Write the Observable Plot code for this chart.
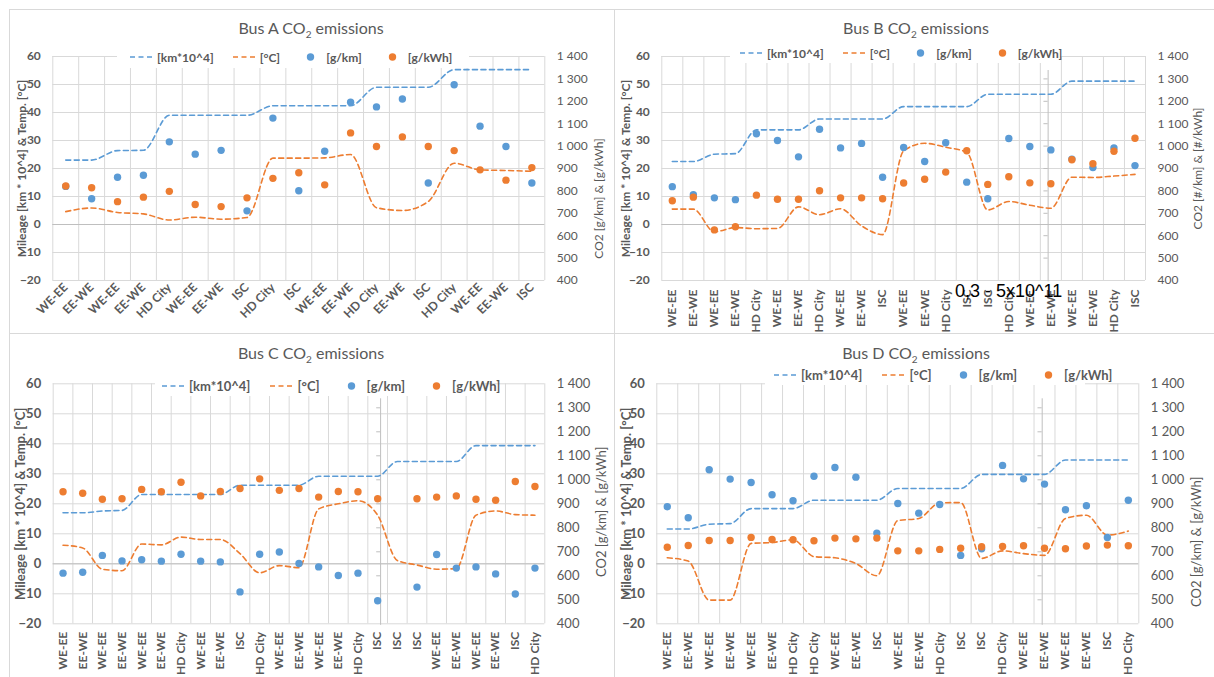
<!DOCTYPE html>
<html>
<head>
<meta charset="utf-8">
<script src="https://cdn.jsdelivr.net/npm/d3@7"></script>
<script src="https://cdn.jsdelivr.net/npm/@observablehq/plot@0.6"></script>
<style>
  body { margin: 0; background: #fff; }
  #root { position: relative; width: 1214px; height: 677px; overflow: hidden; background: #fff; font-family: Lato, "Open Sans", sans-serif; }
  .border { position: absolute; border: 1px solid #D9D9D9; box-sizing: border-box; }
  .chart { position: absolute; }
  .chart svg { overflow: visible; }
  .title { position: absolute; width: 300px; text-align: center; color: #595959; font-size: 16px; line-height: 16px; white-space: nowrap; }
  .title sub { font-size: 10px; line-height: 0; }
  .legend { position: absolute; background: #fff; display: flex; align-items: center; box-sizing: border-box; color: #595959; font-weight: bold; white-space: nowrap; }
  .legend .item { display: flex; align-items: center; gap: 4px; }
  .note { position: absolute; font-family: "Liberation Sans", Arial, sans-serif; font-size: 18px; line-height: 18px; color: #000; white-space: nowrap; }
</style>
</head>
<body>
<div id="root"></div>
<script>
// ---------------- data ----------------
const catsA = ["WE-EE","EE-WE","WE-EE","EE-WE","HD City","WE-EE","EE-WE","ISC","HD City","ISC","WE-EE","EE-WE","HD City","EE-WE","ISC","HD City","WE-EE","EE-WE","ISC"];
const mileA = [23,23,26.4,26.5,39,39,39,39,42.4,42.4,42.4,42.4,49,49,49,55.3,55.3,55.3,55.3];
const tempA = [4.6,5.9,4.3,3.8,1.6,2.6,1.9,2.5,23.7,23.7,23.8,25.0,6.0,5.0,8.2,21.9,19.5,19.3,19.0];
const gkmA  = [820,765,861,870,1019,964,981,711,1125,801,977,1196,1175,1210,835,1274,1089,998,835];
const gkwhA = [822,814,752,772,798,739,730,769,856,881,827,1059,998,1041,998,980,894,848,904];

const catsB = ["WE-EE","EE-WE","WE-EE","EE-WE","HD City","WE-EE","EE-WE","HD City","WE-EE","EE-WE","ISC","WE-EE","EE-WE","HD City","ISC","ISC","HD City","WE-EE","EE-WE","WE-EE","EE-WE","HD City","ISC"];
const mileB = [22.5,22.5,25.1,25.3,33.8,33.8,33.8,37.7,37.7,37.7,37.7,42.1,42.1,42.1,42.1,46.5,46.5,46.5,46.5,51.2,51.2,51.2,51.2];
const tempB = [5.5,5.5,-2.6,-1.1,-1.5,-1.4,6.3,3.5,5.6,-0.5,-3.6,26.3,29.0,27.6,25.8,5.2,8.2,6.9,5.8,16.9,16.8,17.3,17.9];
const gkmB  = [819,783,769,761,1055,1025,952,1075,992,1012,861,994,931,1015,839,765,1034,998,983,942,904,992,913];
const gkwhB = [756,772,626,640,781,763,763,801,769,769,765,835,852,884,979,829,863,836,832,939,921,977,1035];

const catsC = ["WE-EE","EE-WE","WE-EE","EE-WE","WE-EE","EE-WE","HD City","WE-EE","EE-WE","ISC","HD City","WE-EE","EE-WE","WE-EE","EE-WE","HD City","ISC","ISC","ISC","WE-EE","EE-WE","WE-EE","EE-WE","ISC","HD City"];
const mileC = [17.0,17.0,17.6,17.8,23.1,23.1,23.1,23.1,23.1,26.2,26.2,26.2,26.2,29.2,29.2,29.2,29.2,34.1,34.1,34.1,34.1,39.4,39.4,39.4,39.4];
const tempC = [6.2,5.3,-1.8,-2.3,6.6,6.3,8.9,8.1,8.1,3.4,-3.0,-0.6,-1.3,18.3,20.0,21.0,16.2,1.1,-0.4,-1.8,-1.6,16.2,17.6,16.4,16.2];
const gkmC  = [611,615,685,662,667,661,690,661,658,533,690,699,651,637,601,611,496,null,553,689,632,637,608,524,632];
const gkwhC = [950,944,919,921,960,950,990,933,951,964,1004,956,964,928,951,950,921,null,921,928,933,919,915,993,972];

const catsD = ["WE-EE","EE-WE","WE-EE","EE-WE","WE-EE","EE-WE","HD City","HD City","WE-EE","EE-WE","ISC","WE-EE","EE-WE","HD City","ISC","ISC","HD City","WE-EE","EE-WE","WE-EE","EE-WE","ISC","HD City"];
const mileD = [11.6,11.6,13.2,13.4,18.4,18.4,18.4,21.2,21.2,21.2,21.2,25.1,25.1,25.1,25.1,29.8,29.8,29.8,29.8,34.6,34.6,34.6,34.6];
const tempD = [2.0,0.9,-12.1,-12.1,6.8,7.1,8.0,2.4,2.0,0.1,-4.0,14.4,15.1,20.3,20.4,1.8,4.3,3.4,2.8,15.1,16.2,9.6,10.9];
const gkmD  = [888,842,1042,1003,989,938,913,1015,1051,1011,778,901,861,897,685,713,1060,1004,982,875,892,760,915];
const gkwhD = [719,726,747,747,760,751,750,746,757,754,757,704,704,710,715,721,722,725,715,713,724,728,725];

const leftTicks  = [-20,-10,0,10,20,30,40,50,60];
const rightTicks = [400,500,600,700,800,900,1000,1100,1200,1300,1400];
const legendLabels = ["[km*10^4]", "[°C]", "[g/km]", "[g/kWh]"];
const leftTitle = "Mileage [km * 10^4] & Temp. [°C]";
const noteText = "0,3 - 5x10^11";

// ---------------- styling / layout ----------------
const BLUE = "#5B9BD5", ORANGE = "#ED7D31", GRID = "#D9D9D9", AXIS = "#BFBFBF", TXT = "#595959";
const fmt = d3.formatLocale({decimal: ",", thousands: " ", grouping: [3], currency: ["", ""]}).format(",d");
const toLeft = v => (v - 400) / 12.5 - 20;       // secondary (CO2) axis -> primary axis
const fromLeft = v => (v + 20) * 12.5 + 400;

const panels = [
  {name: "A", cats: catsA, mile: mileA, temp: tempA, gkm: gkmA, gkwh: gkwhA,
   box: {x: 9, y: 9, w: 605, h: 324}, frame: {l: 52.3, r: 544.3, t: 56, b: 280},
   fs: 12, xfs: 12, rot: -45, padX: 5, ltDx: -31, rtDx: 54, rtDy: 30, rightTitle: "CO2 [g/km] & [g/kWh]",
   title: {cx: 311, top: 20}, legend: {x: 117, y: 46, w: 352, h: 22, pad: 13, gap: 19, fs: 12}, sep: null},
  {name: "B", cats: catsB, mile: mileB, temp: tempB, gkm: gkmB, gkwh: gkwhB,
   box: {x: 614, y: 9, w: 600, h: 324}, frame: {l: 661.3, r: 1145, t: 56, b: 280},
   fs: 12, xfs: 12, rot: -90, padX: 9, ltDx: -36, rtDx: 53, rtDy: 0, rightTitle: "CO2 [#/km] & [#/kWh]",
   title: {cx: 916, top: 20}, legend: {x: 730, y: 43, w: 330, h: 20, pad: 10, gap: 19, fs: 12}, sep: 17.87},
  {name: "C", cats: catsC, mile: mileC, temp: tempC, gkm: gkmC, gkwh: gkwhC,
   box: {x: 9, y: 333, w: 605, h: 344}, frame: {l: 52.7, r: 544.3, t: 383.3, b: 623.3},
   fs: 13, xfs: 12, rot: -90, padX: 8, ltDx: -32, rtDx: 57, rtDy: 8, rightTitle: "CO2 [g/km] & [g/kWh]",
   title: {cx: 311, top: 345}, legend: {x: 155, y: 375, w: 330, h: 21, pad: 7, gap: 20, fs: 13}, sep: 16.15},
  {name: "D", cats: catsD, mile: mileD, temp: tempD, gkm: gkmD, gkwh: gkwhD,
   box: {x: 614, y: 333, w: 600, h: 344}, frame: {l: 656.3, r: 1138.3, t: 383.3, b: 623.3},
   fs: 13, xfs: 12, rot: -90, padX: 8, ltDx: -30, rtDx: 58, rtDy: 38, rightTitle: "CO2 [g/km] & [g/kWh]",
   title: {cx: 916, top: 345}, legend: {x: 765, y: 364, w: 320, h: 21, pad: 9, gap: 20, fs: 13}, sep: 17.89}
];

const root = document.getElementById("root");

function drawPanel(p) {
  const n = p.cats.length, idx = d3.range(n);
  const bx = p.box, fr = p.frame;
  const marks = [
    Plot.ruleY(leftTicks, {stroke: GRID, strokeWidth: 1}),
    Plot.ruleX(d3.range(n + 1).map(i => i - 0.5), {stroke: GRID, strokeWidth: 1}),
    Plot.ruleY([0], {stroke: AXIS, strokeWidth: 1})
  ];
  if (p.sep != null) {
    marks.push(
      Plot.ruleX([p.sep], {y1: -20.5, y2: 55, stroke: AXIS, strokeWidth: 1}),
      Plot.ruleY(rightTicks.slice(1, -1).map(toLeft), {x1: p.sep - 0.2, x2: p.sep, stroke: AXIS, strokeWidth: 1})
    );
  }
  marks.push(
    Plot.axisY(leftTicks, {anchor: "left", tickSize: 0, tickPadding: 12, fontWeight: "bold", fontSize: p.fs, fill: TXT, label: null}),
    Plot.axisY(rightTicks.map(toLeft), {anchor: "right", tickSize: 0, tickPadding: 12, fontSize: p.fs, fill: TXT, label: null,
      tickFormat: v => fmt(Math.round(fromLeft(v)))}),
    Plot.axisX(idx, {anchor: "bottom", tickSize: 0, tickPadding: p.padX, tickRotate: p.rot, fontWeight: "bold", fontSize: p.xfs,
      fill: TXT, label: null, tickFormat: i => p.cats[i]}),
    Plot.text([leftTitle], {frameAnchor: "left", textAnchor: "middle", lineAnchor: "middle", rotate: -90, dx: p.ltDx,
      fontWeight: "bold", fontSize: p.fs, fill: TXT}),
    Plot.text([p.rightTitle], {frameAnchor: "right", textAnchor: "middle", lineAnchor: "middle", rotate: -90, dx: p.rtDx, dy: p.rtDy,
      fontSize: p.fs, fill: TXT}),
    Plot.line(idx, {x: i => i, y: i => p.mile[i], stroke: BLUE, strokeWidth: 1.6, strokeDasharray: "5,3.5", curve: "monotone-x"}),
    Plot.line(idx, {x: i => i, y: i => p.temp[i], stroke: ORANGE, strokeWidth: 1.6, strokeDasharray: "5,3.5", curve: "monotone-x"}),
    Plot.dot(idx.filter(i => p.gkm[i] != null), {x: i => i, y: i => toLeft(p.gkm[i]), r: 3.7, fill: BLUE}),
    Plot.dot(idx.filter(i => p.gkwh[i] != null), {x: i => i, y: i => toLeft(p.gkwh[i]), r: 3.7, fill: ORANGE})
  );
  const chart = Plot.plot({
    width: bx.w, height: bx.h,
    marginLeft: fr.l - bx.x, marginRight: bx.x + bx.w - fr.r,
    marginTop: fr.t - bx.y, marginBottom: bx.y + bx.h - fr.b,
    x: {type: "linear", domain: [-0.5, n - 0.5], axis: null},
    y: {type: "linear", domain: [-20, 60], axis: null},
    style: {fontFamily: "Lato, 'Open Sans', sans-serif", fontSize: p.fs + "px", color: TXT, background: "transparent", overflow: "visible"},
    marks
  });
  const wrap = document.createElement("div");
  wrap.className = "chart";
  wrap.style.left = bx.x + "px";
  wrap.style.top = bx.y + "px";
  wrap.appendChild(chart);
  root.appendChild(wrap);

  // border
  const b = document.createElement("div");
  b.className = "border";
  Object.assign(b.style, {left: bx.x + "px", top: bx.y + "px", width: (bx.w + 1) + "px", height: (p.name === "A" || p.name === "B" ? bx.h + 1 : bx.h + 40) + "px"});
  root.appendChild(b);

  // title
  const t = document.createElement("div");
  t.className = "title";
  t.style.left = (p.title.cx - 150) + "px";
  t.style.top = p.title.top + "px";
  t.innerHTML = `Bus ${p.name} CO<sub>2</sub> emissions`;
  root.appendChild(t);

  // legend
  const L = p.legend;
  const lg = document.createElement("div");
  lg.className = "legend";
  Object.assign(lg.style, {left: L.x + "px", top: L.y + "px", width: L.w + "px", height: L.h + "px",
    paddingLeft: L.pad + "px", gap: L.gap + "px", fontSize: L.fs + "px"});
  const kinds = [["dash", BLUE], ["dash", ORANGE], ["dot", BLUE], ["dot", ORANGE]];
  kinds.forEach(([kind, color], k) => {
    const it = document.createElement("div");
    it.className = "item";
    const sym = kind === "dash"
      ? `<svg width="23" height="10"><line x1="0" y1="5" x2="23" y2="5" stroke="${color}" stroke-width="1.6" stroke-dasharray="5,3.5"/></svg>`
      : `<svg width="23" height="10"><circle cx="11.5" cy="5" r="3.7" fill="${color}"/></svg>`;
    it.innerHTML = sym + `<span>${legendLabels[k]}</span>`;
    lg.appendChild(it);
  });
  root.appendChild(lg);
}

panels.forEach(drawPanel);

// annotation on panel B
const note = document.createElement("div");
note.className = "note";
note.style.left = "955px";
note.style.top = "282px";
note.textContent = noteText;
root.appendChild(note);
</script>
</body>
</html>
